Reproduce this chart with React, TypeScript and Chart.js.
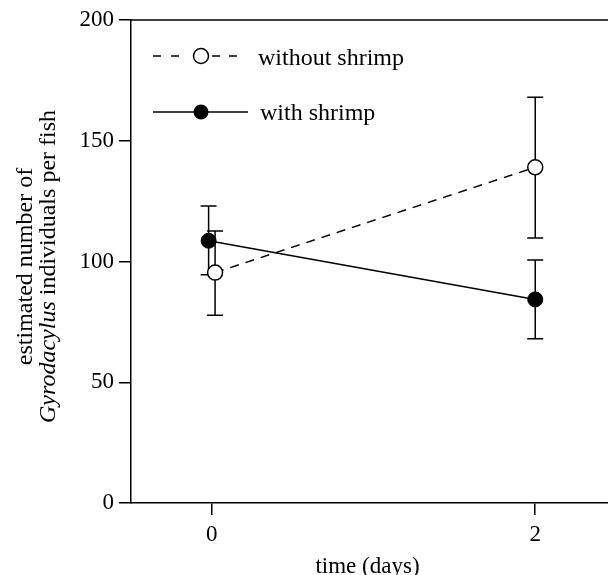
import React, { useEffect, useRef } from "react";
import { Chart, registerables } from "chart.js";

Chart.register(...registerables);

// ---- data ----
const DAY_TICKS = [0, 2];
const Y_TICKS = [0, 50, 100, 150, 200];

const WITH_X = [-0.02, 2];
const WITH_MEAN = [108.6, 84.3];
const WITH_LOW = [94.5, 68];
const WITH_HIGH = [123, 100.6];

const WITHOUT_X = [0.02, 2];
const WITHOUT_MEAN = [95.4, 139];
const WITHOUT_LOW = [77.7, 109.7];
const WITHOUT_HIGH = [112.6, 168];

const SERIES_LABELS = ["without shrimp", "with shrimp"];
const X_TITLE = "time (days)";
const Y_TITLE_1 = "estimated number of";
const Y_TITLE_ITALIC = "Gyrodacylus";
const Y_TITLE_REST = " individuals per fish";

const FONT = "'Liberation Serif', 'Times New Roman', serif";
const INK = "#000000";

const errorBarPlugin = {
  id: "errorBars",
  beforeDatasetsDraw(chart: any) {
    const { ctx } = chart;
    const xs = chart.scales.x;
    const ys = chart.scales.y;
    const groups = [
      { x: WITHOUT_X, lo: WITHOUT_LOW, hi: WITHOUT_HIGH },
      { x: WITH_X, lo: WITH_LOW, hi: WITH_HIGH },
    ];
    ctx.save();
    ctx.strokeStyle = INK;
    ctx.lineWidth = 1.5;
    ctx.setLineDash([]);
    const cap = 8;
    groups.forEach((g) => {
      g.x.forEach((xv, i) => {
        const px = xs.getPixelForValue(xv);
        const pl = ys.getPixelForValue(g.lo[i]);
        const ph = ys.getPixelForValue(g.hi[i]);
        ctx.beginPath();
        ctx.moveTo(px, pl);
        ctx.lineTo(px, ph);
        ctx.moveTo(px - cap, pl);
        ctx.lineTo(px + cap, pl);
        ctx.moveTo(px - cap, ph);
        ctx.lineTo(px + cap, ph);
        ctx.stroke();
      });
    });
    ctx.restore();
  },
};

const decorPlugin = {
  id: "decor",
  afterDraw(chart: any) {
    const { ctx, chartArea } = chart;
    const { left, right, top, bottom } = chartArea;
    ctx.save();
    ctx.strokeStyle = INK;
    ctx.fillStyle = INK;
    ctx.lineWidth = 1.5;

    // top frame line
    ctx.beginPath();
    ctx.moveTo(left, top);
    ctx.lineTo(right, top);
    ctx.stroke();

    // legend
    const lx0 = left + 22;
    const cx = left + 70;
    const r = 7.5;
    const row1 = top + 36;
    const row2 = top + 92;
    // row 1: dashed, open circle
    ctx.setLineDash([8, 10]);
    ctx.beginPath();
    ctx.moveTo(lx0, row1);
    ctx.lineTo(cx - 20, row1);
    ctx.stroke();
    ctx.setLineDash([8, 9]);
    ctx.beginPath();
    ctx.moveTo(cx + 11, row1);
    ctx.lineTo(cx + 37, row1);
    ctx.stroke();
    ctx.setLineDash([]);
    ctx.beginPath();
    ctx.arc(cx, row1, r, 0, Math.PI * 2);
    ctx.fillStyle = "#ffffff";
    ctx.fill();
    ctx.stroke();
    ctx.fillStyle = INK;
    // row 2: solid, filled circle
    ctx.beginPath();
    ctx.moveTo(lx0, row2);
    ctx.lineTo(cx + 47, row2);
    ctx.stroke();
    ctx.beginPath();
    ctx.arc(cx, row2, r, 0, Math.PI * 2);
    ctx.fill();

    ctx.font = `24px ${FONT}`;
    ctx.textAlign = "left";
    ctx.textBaseline = "alphabetic";
    ctx.fillText(SERIES_LABELS[0], left + 127, top + 45);
    ctx.fillText(SERIES_LABELS[1], left + 129, top + 99.5);

    // x title
    ctx.font = `23px ${FONT}`;
    ctx.textAlign = "center";
    ctx.fillText(X_TITLE, (left + right) / 2 - 2, bottom + 70);

    // y title (two lines, rotated)
    const cy = (top + bottom) / 2 + 5;
    ctx.save();
    ctx.translate(0, cy);
    ctx.rotate(-Math.PI / 2);
    ctx.textAlign = "center";
    ctx.font = `24px ${FONT}`;
    ctx.fillText(Y_TITLE_1, 0, 32);
    ctx.font = `italic 24px ${FONT}`;
    const wi = ctx.measureText(Y_TITLE_ITALIC).width;
    ctx.font = `24px ${FONT}`;
    const wr = ctx.measureText(Y_TITLE_REST).width;
    const start = -(wi + wr) / 2;
    ctx.textAlign = "left";
    ctx.font = `italic 24px ${FONT}`;
    ctx.fillText(Y_TITLE_ITALIC, start, 55);
    ctx.font = `24px ${FONT}`;
    ctx.fillText(Y_TITLE_REST, start + wi, 55);
    ctx.restore();

    ctx.restore();
  },
};

export default function App() {
  const ref = useRef<HTMLCanvasElement | null>(null);

  useEffect(() => {
    if (!ref.current) return;
    const chart = new Chart(ref.current, {
      type: "line",
      data: {
        datasets: [
          {
            label: SERIES_LABELS[0],
            data: WITHOUT_X.map((x, i) => ({ x, y: WITHOUT_MEAN[i] })),
            borderColor: INK,
            borderWidth: 1.5,
            borderDash: [9, 7],
            pointRadius: 7.5,
            pointBackgroundColor: "#ffffff",
            pointBorderColor: INK,
            pointBorderWidth: 1.5,
            tension: 0,
            fill: false,
          },
          {
            label: SERIES_LABELS[1],
            data: WITH_X.map((x, i) => ({ x, y: WITH_MEAN[i] })),
            borderColor: INK,
            borderWidth: 1.5,
            pointRadius: 7.5,
            pointBackgroundColor: INK,
            pointBorderColor: INK,
            pointBorderWidth: 1,
            tension: 0,
            fill: false,
          },
        ],
      },
      options: {
        animation: false,
        responsive: false,
        events: [],
        layout: { autoPadding: false, padding: { top: 20, right: 0, left: 0, bottom: 0 } },
        plugins: {
          legend: { display: false },
          tooltip: { enabled: false },
        },
        scales: {
          x: {
            type: "linear",
            min: -0.5,
            max: 2.45,
            afterFit: (s: any) => {
              s.height = 72;
              s.paddingLeft = 0;
              s.paddingRight = 0;
            },
            afterBuildTicks: (s: any) => {
              s.ticks = DAY_TICKS.map((v) => ({ value: v }));
            },
            ticks: {
              color: INK,
              font: { family: FONT, size: 23 },
              padding: 6,
              maxRotation: 0,
              callback: (v: any) => String(v),
            },
            grid: {
              drawOnChartArea: false,
              drawTicks: true,
              tickLength: 12,
              color: INK,
              lineWidth: 1.5,
            },
            border: { display: true, color: INK, width: 1.5 },
          },
          y: {
            type: "linear",
            min: 0,
            max: 200,
            afterFit: (s: any) => {
              s.width = 131;
            },
            afterBuildTicks: (s: any) => {
              s.ticks = Y_TICKS.map((v) => ({ value: v }));
            },
            ticks: {
              color: INK,
              font: { family: FONT, size: 23 },
              padding: 5,
              callback: (v: any) => String(v),
            },
            grid: {
              drawOnChartArea: false,
              drawTicks: true,
              tickLength: 12,
              color: INK,
              lineWidth: 1.5,
            },
            border: { display: true, color: INK, width: 1.5 },
          },
        },
      },
      plugins: [errorBarPlugin, decorPlugin],
    });
    return () => chart.destroy();
  }, []);

  return (
    <div style={{ position: "fixed", left: 0, top: 0, width: 608, height: 575, background: "#fff" }}>
      <canvas ref={ref} width={608} height={575} style={{ display: "block" }} />
    </div>
  );
}
